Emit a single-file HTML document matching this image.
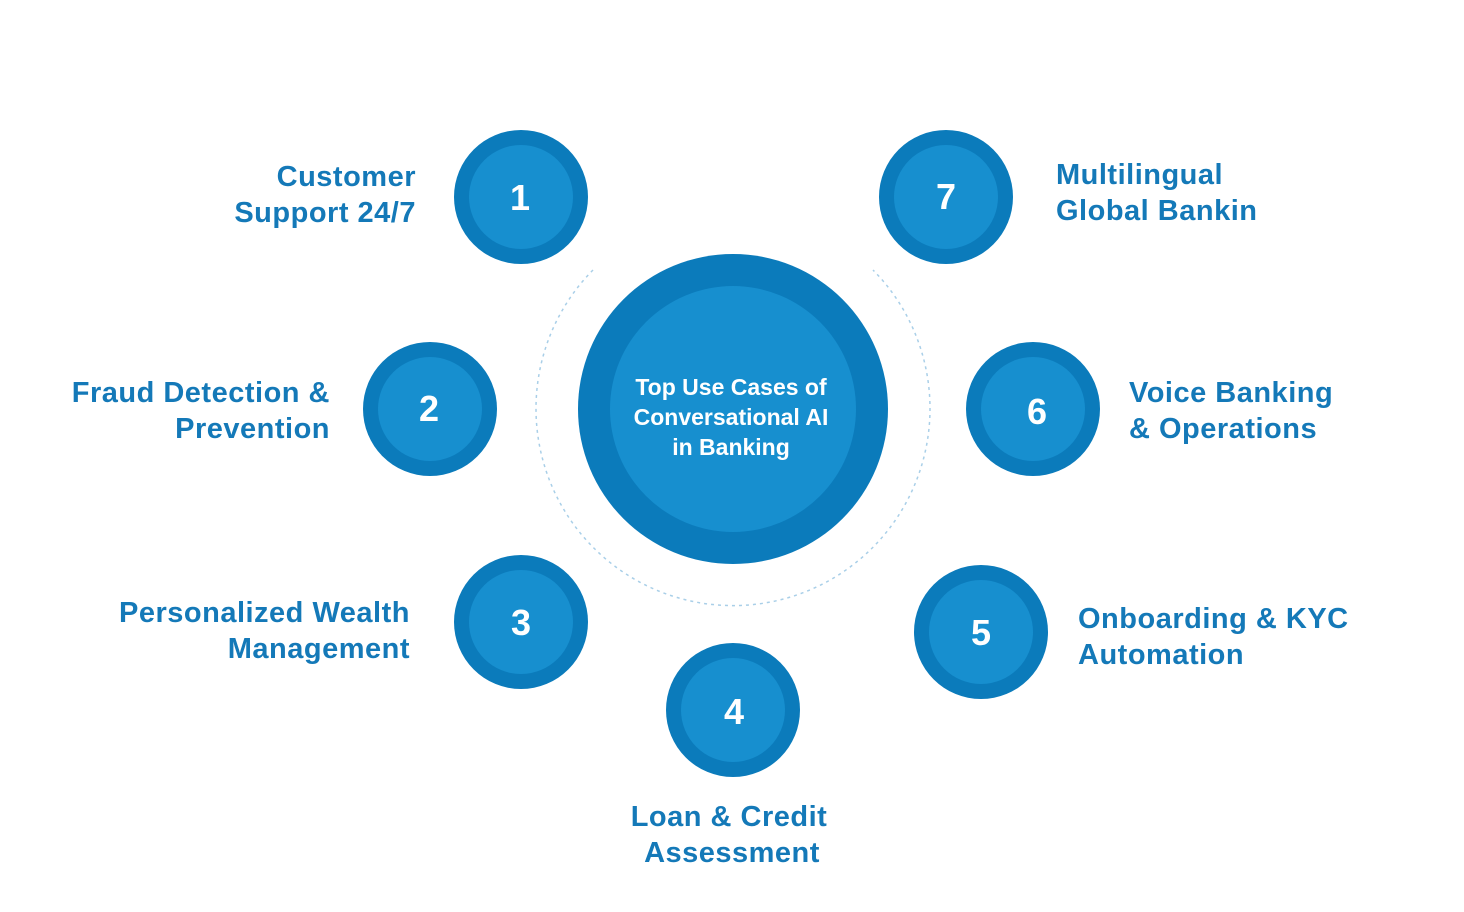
<!DOCTYPE html>
<html><head><style>
html,body{margin:0;padding:0;background:#fff;}
svg{display:block;}
text{font-family:"Liberation Sans",sans-serif;font-weight:bold;}
.l{fill:#1479b8;font-size:29px;letter-spacing:0.5px;}
.n{fill:#fff;font-size:36px;}
</style></head><body>
<svg width="1464" height="912" viewBox="0 0 1464 912">
<path d="M593 270 A197 197 0 1 0 873 270" fill="none" stroke="#a9cfe8" stroke-width="1.5" stroke-dasharray="3 4"/>
<circle cx="733" cy="409" r="155" fill="#0b7bbb"/>
<circle cx="733" cy="409" r="123" fill="#178fcf"/>
<g text-anchor="middle">
<text x="731" y="395" style="fill:#fff;font-size:23px">Top Use Cases of</text>
<text x="731" y="425" style="fill:#fff;font-size:23px">Conversational AI</text>
<text x="731" y="455" style="fill:#fff;font-size:23px">in Banking</text>
</g>
<g>
<circle cx="521" cy="197" r="67" fill="#0b7bbb"/><circle cx="521" cy="197" r="52" fill="#178fcf"/>
<circle cx="946" cy="197" r="67" fill="#0b7bbb"/><circle cx="946" cy="197" r="52" fill="#178fcf"/>
<circle cx="430" cy="409" r="67" fill="#0b7bbb"/><circle cx="430" cy="409" r="52" fill="#178fcf"/>
<circle cx="1033" cy="409" r="67" fill="#0b7bbb"/><circle cx="1033" cy="409" r="52" fill="#178fcf"/>
<circle cx="521" cy="622" r="67" fill="#0b7bbb"/><circle cx="521" cy="622" r="52" fill="#178fcf"/>
<circle cx="981" cy="632" r="67" fill="#0b7bbb"/><circle cx="981" cy="632" r="52" fill="#178fcf"/>
<circle cx="733" cy="710" r="67" fill="#0b7bbb"/><circle cx="733" cy="710" r="52" fill="#178fcf"/>
</g>
<g text-anchor="middle">
<text class="n" x="520" y="210">1</text>
<text class="n" x="946" y="209">7</text>
<text class="n" x="429" y="421">2</text>
<text class="n" x="1037" y="424">6</text>
<text class="n" x="521" y="635">3</text>
<text class="n" x="981" y="645">5</text>
<text class="n" x="734" y="724">4</text>
</g>
<g text-anchor="end">
<text class="l" x="416" y="186">Customer</text>
<text class="l" x="416" y="222">Support 24/7</text>
<text class="l" x="330" y="402">Fraud Detection &amp;</text>
<text class="l" x="330" y="438">Prevention</text>
<text class="l" x="410" y="622">Personalized Wealth</text>
<text class="l" x="410" y="658">Management</text>
</g>
<g>
<text class="l" x="1056" y="184">Multilingual</text>
<text class="l" x="1056" y="220">Global Bankin</text>
<text class="l" x="1129" y="402">Voice Banking</text>
<text class="l" x="1129" y="438">&amp; Operations</text>
<text class="l" x="1078" y="628">Onboarding &amp; KYC</text>
<text class="l" x="1078" y="664">Automation</text>
</g>
<g text-anchor="middle">
<text class="l" x="729" y="826">Loan &amp; Credit</text>
<text class="l" x="732" y="862">Assessment</text>
</g>
</svg>
</body></html>
